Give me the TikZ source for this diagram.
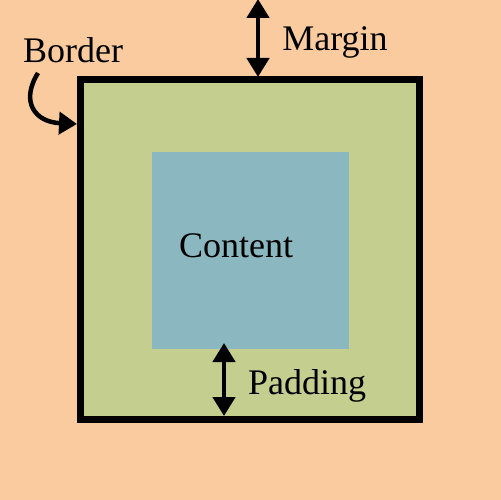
\documentclass[tikz,border=0pt]{standalone}
\usepackage{fontspec}
\newfontfamily\lblfont{Liberation Serif}
\usetikzlibrary{arrows.meta}
\definecolor{peach}{HTML}{F9CB9F}
\definecolor{greenbox}{HTML}{C4CF8F}
\definecolor{bluebox}{HTML}{8BB7C0}
\tikzset{
  lbl/.style={font=\lblfont\fontsize{36}{40}\selectfont, inner sep=0pt, text=black},
  dimarrow/.style={line width=4.5pt, {Triangle[width=22pt,length=19pt]}-{Triangle[width=22pt,length=19pt]}},
  ptr/.style={line width=4.5pt, -{Triangle[width=22pt,length=18pt]}}
}
\begin{document}
\begin{tikzpicture}[x=1pt,y=-1pt]
\fill[peach] (0,0) rectangle (501,500);
\useasboundingbox (0,0) rectangle (501,500);
\draw[line width=7pt, fill=greenbox] (80,80) rectangle (419,419);
\node[fill=bluebox, minimum width=197pt, minimum height=197pt, inner sep=0pt, anchor=north west] (content) at (152,152) {};
\node[lbl] (ctext) at (236,246) {Content};
\coordinate (mtop) at (258,-1);
\coordinate (mbot) at (258,77);
\draw[dimarrow] (mtop) -- (mbot);
\node[lbl] (margin) at (335,42) {Margin};
\coordinate (ptop) at (224,343);
\coordinate (pbot) at (224,416);
\draw[dimarrow] (ptop) -- (pbot);
\node[lbl] (padding) at (307,386) {Padding};
\node[lbl] (border) at (73,50) {Border};
\coordinate (bs) at (38,73);
\coordinate (be) at (77,124);
\draw[ptr] (bs) .. controls (20,102) and (35,122) .. (be);
\end{tikzpicture}
\end{document}
